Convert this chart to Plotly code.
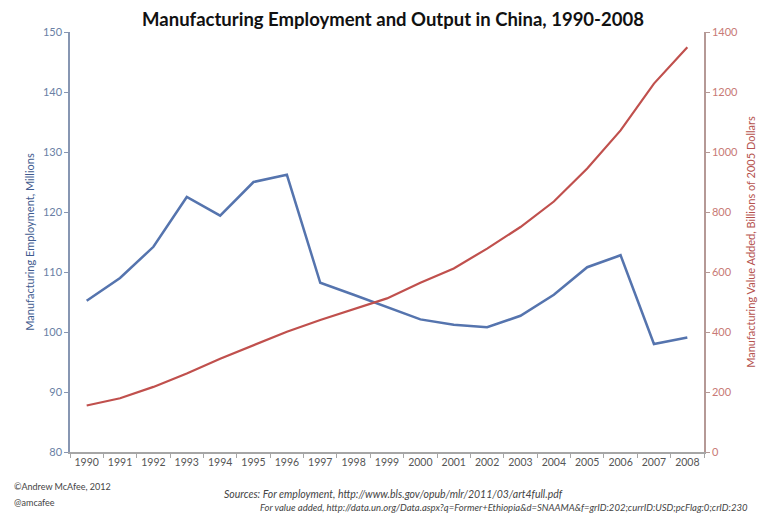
"""
Manufacturing employment and output in China, 1990-2008
"""
import plotly.graph_objects as go

years = [str(y) for y in range(1990, 2009)]

# employment, millions (left axis)
employment = [105.2, 109.0, 114.2, 122.5, 119.4, 125.0, 126.2, 108.2, 106.2, 104.1,
              102.1, 101.2, 100.8, 102.7, 106.2, 110.8, 112.8, 98.0, 99.1]

# value added, billions of 2005 dollars (right axis)
value_added = [155, 179, 217, 262, 311, 357, 401, 440, 476, 512,
               564, 612, 678, 750, 835, 945, 1072, 1228, 1349]

left_ticks = [80, 90, 100, 110, 120, 130, 140, 150]
right_ticks = [0, 200, 400, 600, 800, 1000, 1200, 1400]

FONT = "Lato, 'Open Sans', sans-serif"
BLUE = "#5574AE"
RED = "#C0504D"

fig = go.Figure()

fig.add_trace(go.Scatter(
    x=years, y=employment,
    mode='lines',
    name='Employment',
    line=dict(color=BLUE, width=2.5),
    yaxis='y'
))

fig.add_trace(go.Scatter(
    x=years, y=value_added,
    mode='lines',
    name='Value added',
    line=dict(color=RED, width=2.2),
    yaxis='y2'
))

# page body adds an 8px offset, so the figure is 770x506
fig.update_layout(
    width=770, height=506,
    margin=dict(l=62, r=74, t=24, b=62),
    paper_bgcolor='white',
    plot_bgcolor='white',
    showlegend=False,
    font=dict(family=FONT, color='#555555'),
    title=dict(
        text="<b>Manufacturing Employment and Output in China, 1990-2008</b>",
        x=0.5, xanchor='center', y=0.977, yanchor='middle',
        font=dict(family=FONT, size=18.5, color='#111111')
    ),
    xaxis=dict(
        type='category',
        range=[-0.5, 18.5],
        automargin=False,
        showgrid=False, zeroline=False,
        showline=True, linecolor='#A6A6A6', linewidth=1.5,
        ticks='outside', ticklen=4, tickcolor='#A6A6A6',
        tickson='boundaries', tickangle=0,
        tickfont=dict(size=10.5, color='#555555'),
    ),
    yaxis=dict(
        range=[80, 150],
        tickvals=left_ticks,
        automargin=False,
        showgrid=False, zeroline=False,
        showline=True, linecolor='#8796B2', linewidth=1.5,
        ticks='outside', ticklen=4, tickcolor='#8796B2',
        tickfont=dict(size=11, color='#6A7FA5'),
        title=dict(text="Manufacturing Employment, Millions",
                   font=dict(size=11, color='#3F5B8F'), standoff=6),
    ),
    yaxis2=dict(
        range=[0, 1400],
        tickvals=right_ticks,
        overlaying='y', side='right',
        automargin=False,
        showgrid=False, zeroline=False,
        showline=True, linecolor='#B59996', linewidth=1.5,
        ticks='outside', ticklen=4, tickcolor='#B59996',
        tickfont=dict(size=11, color='#C87A76'),
        title=dict(text="Manufacturing Value Added, Billions of 2005 Dollars",
                   font=dict(size=11, color='#B5524E'), standoff=10),
    ),
)

# credits and sources
fig.add_annotation(text="©Andrew McAfee, 2012", xref='paper', yref='paper',
                   x=-0.0915, y=-0.083, xanchor='left', yanchor='middle',
                   showarrow=False, font=dict(size=9, color='#444444'))
fig.add_annotation(text="@amcafee", xref='paper', yref='paper',
                   x=-0.0915, y=-0.121, xanchor='left', yanchor='middle',
                   showarrow=False, font=dict(size=9, color='#444444'))
fig.add_annotation(text="<i>Sources: For employment, http://www.bls.gov/opub/mlr/2011/03/art4full.pdf</i>",
                   xref='paper', yref='paper', x=0.2397, y=-0.1,
                   xanchor='left', yanchor='middle', showarrow=False,
                   font=dict(size=10.5, color='#444444'))
fig.add_annotation(text="<i>For value added, http://data.un.org/Data.aspx?q=Former+Ethiopia&d=SNAAMA&f=grID:202;currID:USD;pcFlag:0;crID:230</i>",
                   xref='paper', yref='paper', x=0.2965, y=-0.131,
                   xanchor='left', yanchor='middle', showarrow=False,
                   font=dict(size=9.5, color='#444444'))

fig.write_html("out.html")
